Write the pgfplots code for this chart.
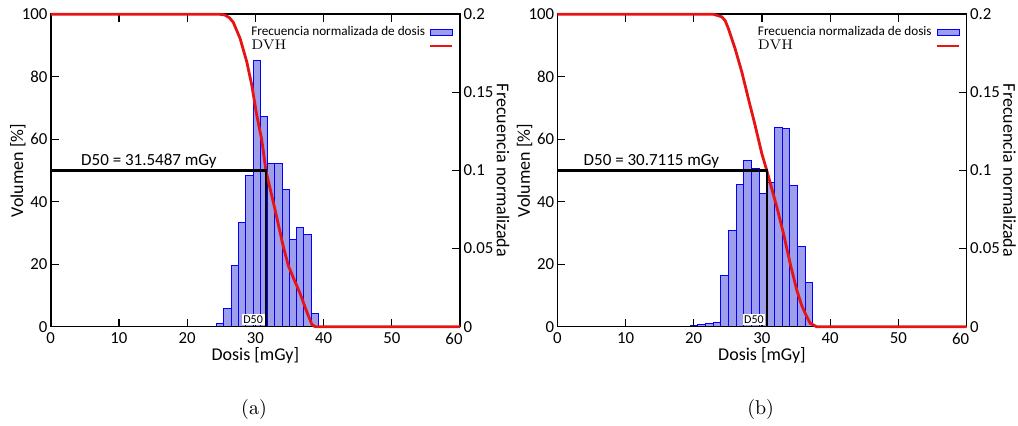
\documentclass[border=0pt]{standalone}
\usepackage{pgfplots}
\pgfplotsset{compat=1.18}
\usepackage{fontspec}
\setsansfont{Carlito}

\definecolor{barfill}{RGB}{158,158,234}
\definecolor{dvhred}{RGB}{230,20,20}

\pgfplotsset{
  common/.style={
    scale only axis, width=204.65pt, height=156.2pt,
    xmin=0, xmax=60,
    /pgf/number format/assume math mode=true,
    tick label style={font=\sffamily\fontsize{8.4}{10}\selectfont, inner sep=0pt},
    xticklabel style={yshift=-3pt},
    label style={font=\sffamily\fontsize{9}{10}\selectfont},
    axis line style={line width=0.8pt},
    tick style={black, line width=0.6pt},
    major tick length=4pt,
  },
  baraxis/.style={
    common,
    ymin=0, ymax=0.2,
    axis y line*=right, axis x line=none,
    tick align=inside,
    ytick={0,0.05,0.1,0.15,0.2},
    yticklabel style={/pgf/number format/fixed, xshift=1.6pt},
    ylabel={Frecuencia normalizada},
    ylabel style={at={(axis description cs:1,0.5)}, anchor=center, rotate=180, yshift=21.5pt},
  },
  dvhaxis/.style={
    common,
    ymin=0, ymax=100,
    xtick={0,10,...,50}, ytick={0,20,...,100},
    extra x ticks={60},
    extra x tick style={xticklabel style={xshift=-3pt}},
    ytick pos=left,
    yticklabel style={xshift=-1.4pt},
    clip=false,
    xlabel={Dosis [mGy]}, ylabel={Volumen [\%]},
    xlabel style={at={(axis description cs:0.5,0)}, anchor=center, yshift=-14.5pt},
    ylabel style={at={(axis description cs:0,0.5)}, anchor=center, yshift=16.4pt},
    legend style={at={(0.985,0.975)}, anchor=north east, draw=none, fill=none,
      font=\fontsize{6.6}{7}\selectfont, inner sep=0pt, row sep=-3.5pt},
    legend cell align=left,
    legend plot pos=right,
  },
  bars/.style={ybar interval, fill=barfill, draw=blue, line width=0.5pt},
  dvh/.style={dvhred, line width=1.4pt,
    legend image code/.code={\draw[dvhred, line width=1.2pt] (0pt,0pt) -- (11pt,0pt);}},
  barlegend/.style={legend image code/.code={\draw[fill=barfill, draw=blue, line width=0.3pt] (0pt,-1.6pt) rectangle (11pt,1.6pt);}},
  d50line/.style={black, line width=1.1pt},
}

\begin{document}
\begin{tikzpicture}

% ---------- (a) ----------
\begin{axis}[baraxis, at={(25.35pt,-163.35pt)}, anchor=south west]
\addplot[bars] coordinates {
  (24.34,0.002) (25.40,0.0118) (26.47,0.039) (27.53,0.0666) (28.60,0.0971)
  (29.66,0.1707) (30.72,0.1344) (31.79,0.1046) (32.85,0.1046) (33.92,0.088)
  (34.98,0.056) (36.04,0.0634) (37.11,0.0592) (38.17,0.0086) (39.24,0)
};
\end{axis}
\begin{axis}[dvhaxis, at={(25.35pt,-163.35pt)}, anchor=south west]
\addlegendimage{barlegend}
\addlegendentry{\sffamily Frecuencia normalizada de dosis}
\addplot[dvh] coordinates {
  (0,100) (24.8,100) (25.5,99.8) (26.2,98.9) (26.77,97.4) (27.76,92.3)
  (28.74,84.8) (29.47,77.4) (30.2,67.8) (30.94,59.8) (31.55,50)
  (32.89,37.4) (34.1,25.6) (34.84,19.5) (35.6,15.5) (36.55,10.7)
  (37.5,5) (38.27,0.8) (38.75,0) (60,0)
};
\addlegendentry{\rmfamily\fontsize{7}{7}\selectfont DVH}
\addplot[d50line] coordinates {(0,50) (31.5487,50) (31.5487,0)};
\node[font=\sffamily\fontsize{8.5}{10}\selectfont, anchor=south, inner sep=1pt]
  at (axis cs:14.4,50) {D50 = 31.5487 mGy};
\node[font=\sffamily\fontsize{6}{7}\selectfont, fill=white, inner sep=0.8pt, anchor=south east]
  at (axis cs:31.4,0.3) {D50};
\end{axis}

% ---------- (b) ----------
\begin{axis}[baraxis, at={(278.65pt,-163.35pt)}, anchor=south west]
\addplot[bars] coordinates {
  (19.47,0.001) (20.59,0.0015) (21.72,0.002) (22.84,0.003) (23.96,0.0327)
  (25.08,0.0619) (26.21,0.0912) (27.33,0.1067) (28.45,0.1014) (29.57,0.0854)
  (30.70,0.0922) (31.82,0.1277) (32.94,0.127) (34.07,0.0907) (35.19,0.0512)
  (36.31,0.0284) (37.44,0)
};
\end{axis}
\begin{axis}[dvhaxis, at={(278.65pt,-163.35pt)}, anchor=south west]
\addlegendimage{barlegend}
\addlegendentry{\sffamily Frecuencia normalizada de dosis}
\addplot[dvh] coordinates {
  (0,100) (22.9,100) (24.1,99.2) (24.6,98) (25.07,95.5) (26.05,89.1)
  (27.04,81.6) (28.0,73.1) (28.98,64.6) (29.97,55.5) (30.71,50)
  (31.19,46.2) (32.17,38.4) (33.15,29.9) (34.13,20.3) (35.11,11.7)
  (35.8,7) (36.33,4.3) (37.07,1.1) (38.0,0) (60,0)
};
\addlegendentry{\rmfamily\fontsize{7}{7}\selectfont DVH}
\addplot[d50line] coordinates {(0,50) (30.7115,50) (30.7115,0)};
\node[font=\sffamily\fontsize{8.5}{10}\selectfont, anchor=south, inner sep=1pt]
  at (axis cs:13.8,50) {D50 = 30.7115 mGy};
\node[font=\sffamily\fontsize{6}{7}\selectfont, fill=white, inner sep=0.8pt, anchor=south east]
  at (axis cs:30.55,0.3) {D50};
\end{axis}

\node[font=\fontsize{10}{12}\selectfont] at (127pt,-205pt) {(a)};
\node[font=\fontsize{10}{12}\selectfont] at (380.3pt,-205pt) {(b)};

\pgfresetboundingbox
\path[use as bounding box] (0pt,0pt) rectangle (509pt,-213pt);
\end{tikzpicture}
\end{document}
